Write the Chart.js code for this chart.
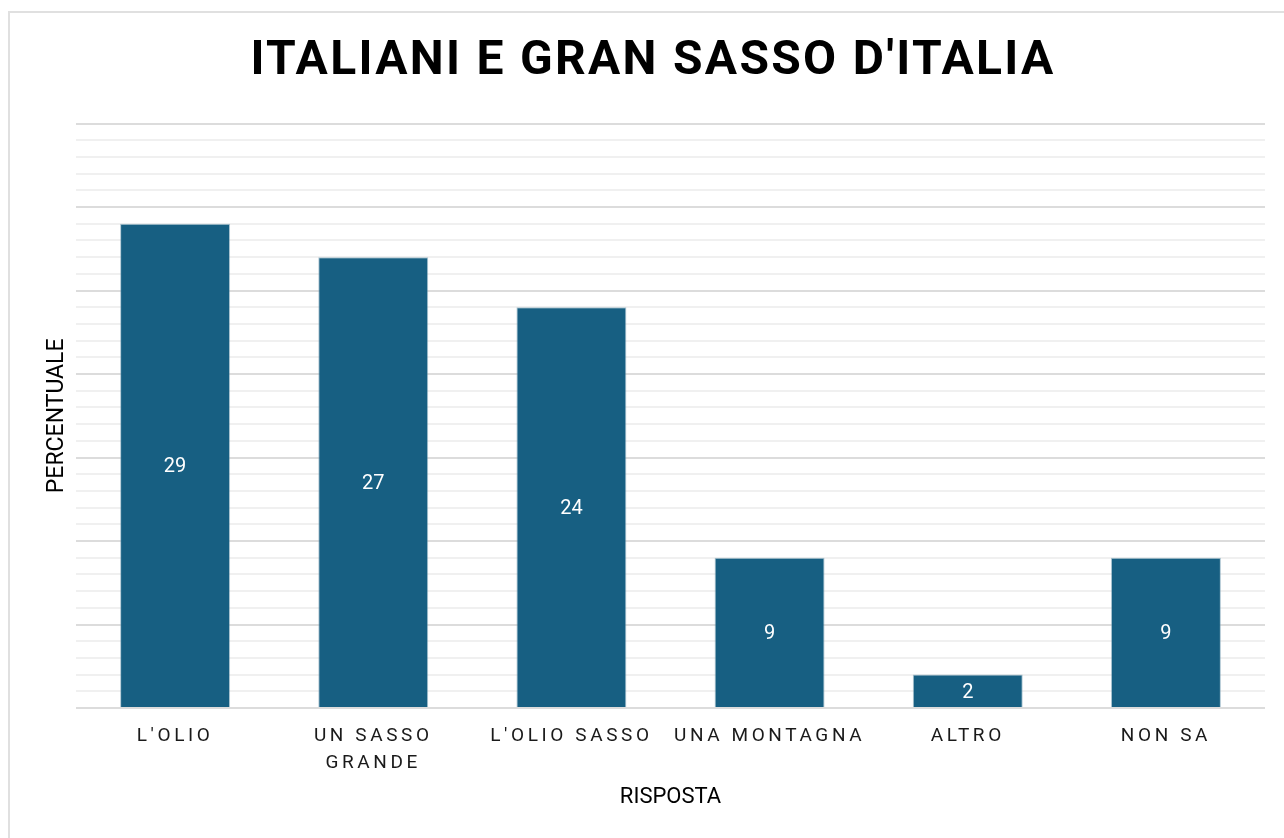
<!DOCTYPE html>
<html>
<head>
<meta charset="utf-8">
<script src="https://cdn.jsdelivr.net/npm/chart.js@4.4.1/dist/chart.umd.min.js"></script>
<style>
  html, body { margin: 0; padding: 0; background: #ffffff; }
  #wrap { position: relative; width: 1284px; height: 838px; overflow: hidden; }
  #frame { position: absolute; left: 8px; top: 11px; width: 1400px; height: 1000px; border: 2px solid #e0e0e0; box-sizing: border-box; }
  #c { position: absolute; left: 0; top: 0; }
</style>
</head>
<body>
<div id="wrap">
  <div id="frame"></div>
  <canvas id="c" width="1284" height="838"></canvas>
</div>
<script>
const chartTitle = "ITALIANI E GRAN SASSO D'ITALIA";
const xAxisTitle = "RISPOSTA";
const yAxisTitle = "PERCENTUALE";
const categories = ["L'OLIO", ["UN SASSO", "GRANDE"], "L'OLIO SASSO", "UNA MONTAGNA", "ALTRO", "NON SA"];
const percentuali = [29, 27, 24, 9, 2, 9];
const yMin = 0;
const yMax = 35;
const yStep = 1;
const yMajorEvery = 5;

const BAR_COLOR = '#175f82';
const TITLE_LS = '2.3px';
const TICK_LS = '3.6px';

const letterSpacingPlugin = {
  id: 'letterSpacing',
  beforeDraw(chart) {
    const xs = chart.scales.x;
    if (xs && !xs._lsPatched) {
      const orig = xs.drawLabels;
      xs.drawLabels = function (a) {
        const c = this.ctx; c.save(); c.letterSpacing = TICK_LS; orig.call(this, a); c.restore();
      };
      xs._lsPatched = true;
    }
    const tb = chart.titleBlock;
    if (tb && !tb._lsPatched) {
      const origT = tb.draw;
      tb.draw = function () {
        const c = this.ctx; c.save(); c.letterSpacing = TITLE_LS; origT.call(this); c.restore();
      };
      tb._lsPatched = true;
    }
  }
};

const valueLabels = {
  id: 'valueLabels',
  afterDatasetsDraw(chart) {
    const ctx = chart.ctx;
    const meta = chart.getDatasetMeta(0);
    ctx.save();
    ctx.letterSpacing = '0px';
    ctx.fillStyle = '#ffffff';
    ctx.font = '20px Roboto';
    ctx.textAlign = 'center';
    ctx.textBaseline = 'middle';
    meta.data.forEach((bar, i) => {
      const v = chart.data.datasets[0].data[i];
      ctx.fillText(String(v), bar.x, (bar.y + bar.base) / 2 + 2);
    });
    ctx.restore();
  }
};

new Chart(document.getElementById('c'), {
  type: 'bar',
  data: {
    labels: categories,
    datasets: [{
      label: yAxisTitle,
      data: percentuali,
      backgroundColor: BAR_COLOR,
      borderColor: 'rgba(120,160,180,0.6)',
      borderWidth: 1,
      barPercentage: 0.555,
      categoryPercentage: 1.0
    }]
  },
  options: {
    responsive: false,
    animation: false,
    devicePixelRatio: 1,
    layout: { padding: { left: 41, right: 19, top: 0, bottom: 20 } },
    plugins: {
      legend: { display: false },
      tooltip: { enabled: false },
      title: {
        display: true,
        text: chartTitle,
        color: '#000000',
        font: { family: 'Roboto', size: 48, weight: 'bold', lineHeight: 1.2 },
        padding: { top: 33, bottom: 33 }
      }
    },
    scales: {
      x: {
        grid: { display: false, drawTicks: false },
        border: { display: false },
        ticks: {
          color: '#1a1a1a',
          font: { family: 'Roboto', size: 19, lineHeight: 1.4 },
          padding: 15,
          maxRotation: 0,
          autoSkip: false
        },
        title: {
          display: true,
          text: xAxisTitle,
          color: '#000000',
          font: { family: 'Roboto', size: 22, lineHeight: 1.2 },
          padding: { top: 0, bottom: 7 }
        },
        afterFit(scale) { scale.height = 110; }
      },
      y: {
        min: yMin,
        max: yMax,
        grid: {
          drawTicks: false,
          color: (ctx) => (ctx.tick && ctx.tick.value % yMajorEvery === 0) ? '#dcdcdc' : '#f0f0f0',
          lineWidth: 2
        },
        border: { display: false },
        ticks: { display: false, stepSize: yStep },
        title: {
          display: true,
          text: yAxisTitle,
          color: '#000000',
          font: { family: 'Roboto', size: 23, lineHeight: 1.2 },
          padding: { top: 2, bottom: 0 }
        },
        afterFit(scale) { scale.width = 35; }
      }
    }
  },
  plugins: [letterSpacingPlugin, valueLabels]
});
</script>
</body>
</html>
